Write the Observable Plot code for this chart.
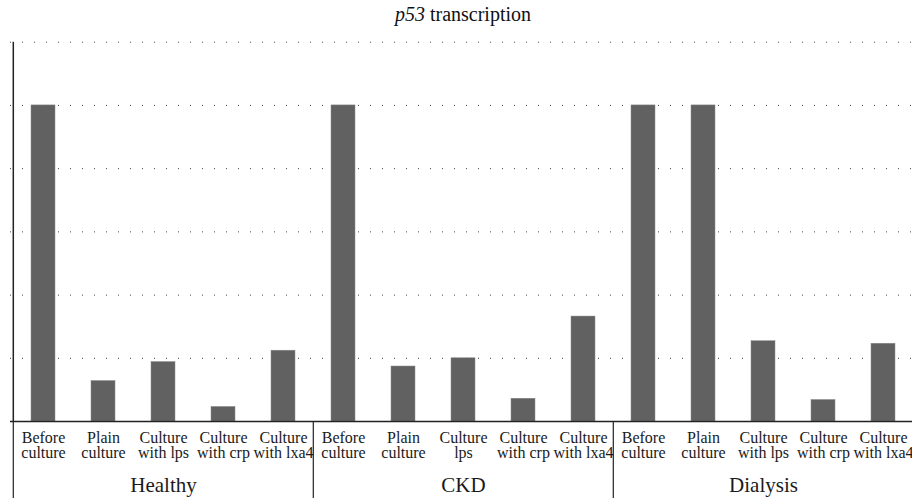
<!DOCTYPE html>
<html><head><meta charset="utf-8">
<script src="https://cdn.jsdelivr.net/npm/d3@7"></script>
<script src="https://cdn.jsdelivr.net/npm/@observablehq/plot@0.6"></script>
<style>
html,body{margin:0;padding:0;background:#fff;overflow:hidden;width:912px;height:498px}
#title{width:926px;height:30px;text-align:center;font-family:"Liberation Serif",serif;font-size:20px;line-height:28px;color:#111}
#chart svg{max-width:none !important;display:block}
</style></head><body>
<div id="title"><i>p53</i> transcription</div>
<div id="chart"></div>
<script>
const groups = ["Healthy", "CKD", "Dialysis"];
const healthyLabels = ["Before\nculture", "Plain\nculture", "Culture\nwith lps", "Culture\nwith crp", "Culture\nwith lxa4"];
const ckdLabels = ["Before\nculture", "Plain\nculture", "Culture\nlps", "Culture\nwith crp", "Culture\nwith lxa4"];
const dialysisLabels = ["Before\nculture", "Plain\nculture", "Culture\nwith lps", "Culture\nwith crp", "Culture\nwith lxa4"];
const healthyValues = [5, 0.64, 0.94, 0.23, 1.12];
const ckdValues = [5, 0.87, 1.0, 0.36, 1.66];
const dialysisValues = [5, 5, 1.27, 0.34, 1.23];
const yTicks = [0, 1, 2, 3, 4, 5, 6];

const labelSets = [healthyLabels, ckdLabels, dialysisLabels];
const valueSets = [healthyValues, ckdValues, dialysisValues];
const rows = [];
groups.forEach((g, gi) => {
  labelSets[gi].forEach((lab, i) => {
    rows.push({key: g + "|" + i, group: g, label: lab, value: valueSets[gi][i]});
  });
});
const keys = rows.map(d => d.key);
const groupStarts = groups.map(g => g + "|0");
const groupMids = groups.map(g => ({key: g + "|2", group: g}));

const W = 926, ML = 10, MR = 10, H = 468, MT = 11.7, MB = 77;
const step = (W - ML - MR) / keys.length;
const FONT = "'Liberation Serif', 'DejaVu Serif', serif";

const chart = Plot.plot({
  width: W, height: H,
  marginLeft: ML, marginRight: MR, marginTop: MT, marginBottom: MB,
  style: {fontFamily: FONT, background: "white", overflow: "visible", color: "#1a1a1a", maxWidth: "none"},
  x: {domain: keys, paddingInner: 0.6, paddingOuter: 0.3, axis: null},
  y: {domain: [0, 6], axis: null},
  marks: [
    Plot.ruleY(yTicks.slice(1), {y: d => d, stroke: "#444", strokeWidth: 1, strokeDasharray: "1,11"}),
    Plot.barY(rows, {x: "key", y: "value", fill: "#616161", stroke: "#8a8a8a", strokeWidth: 0.5}),
    Plot.ruleY([0], {stroke: "#222", strokeWidth: 1.5}),
    Plot.ruleX([keys[0]], {x: d => d, dx: -step / 2, y1: 6, y2: 0, stroke: "#222", strokeWidth: 1.5}),
    Plot.ruleX(groupStarts, {x: d => d, dx: -step / 2, y1: 0, y2: 0, insetBottom: -MB, stroke: "#222", strokeWidth: 1.2}),
    Plot.text(rows, {x: "key", text: "label", frameAnchor: "bottom", lineAnchor: "top", dy: 10.8, fontSize: 16, lineHeight: 0.95, fontFamily: FONT}),
    Plot.text(groupMids, {x: "key", text: "group", frameAnchor: "bottom", lineAnchor: "top", dy: 55.5, fontSize: 21, fontFamily: FONT})
  ]
});
document.getElementById("chart").appendChild(chart);
</script>
</body></html>
